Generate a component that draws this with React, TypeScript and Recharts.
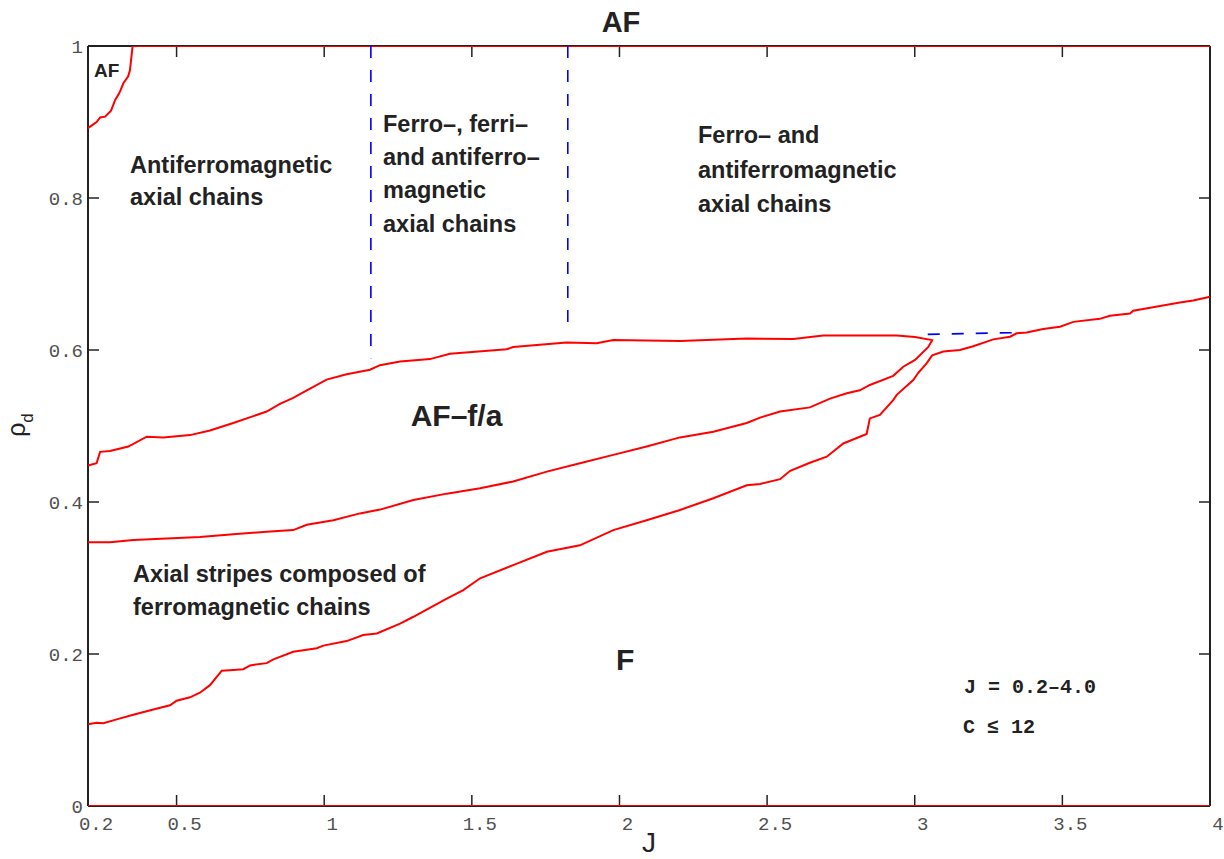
import React from "react";
import { LineChart, Line, XAxis, YAxis } from "recharts";

// phase boundaries as [J, rho_d]
const afCorner: [number, number][] = [
  [0.2, 0.892], [0.229, 0.9], [0.241, 0.906], [0.258, 0.907], [0.278, 0.915],
  [0.292, 0.929], [0.306, 0.938], [0.32, 0.951], [0.336, 0.96], [0.342, 0.968],
  [0.346, 0.982], [0.351, 1.0], [4.0, 1.0],
];

// AF-f/a pocket: upper edge left to right, then back along the lower edge
const afFaUpper: [number, number][] = [
  [0.2, 0.448], [0.229, 0.451], [0.241, 0.466], [0.2745, 0.467], [0.3365, 0.473],
  [0.399, 0.486], [0.455, 0.485], [0.5455, 0.488], [0.613, 0.494], [0.692, 0.504],
  [0.76, 0.513], [0.805, 0.519], [0.85, 0.529], [0.895, 0.537], [0.941, 0.547],
  [1.008, 0.561], [1.076, 0.568], [1.155, 0.574], [1.189, 0.58], [1.257, 0.585],
  [1.358, 0.588], [1.426, 0.595], [1.618, 0.601], [1.64, 0.604], [1.821, 0.61],
  [1.923, 0.609], [1.979, 0.613], [2.205, 0.612], [2.431, 0.615], [2.589, 0.6145],
  [2.69, 0.619], [2.939, 0.619], [3.001, 0.617], [3.059, 0.613],
];
const afFaLower: [number, number][] = [
  [3.046, 0.604], [3.001, 0.587], [2.961, 0.578], [2.927, 0.566], [2.848, 0.554],
  [2.814, 0.547], [2.77, 0.543], [2.713, 0.536], [2.645, 0.5245], [2.544, 0.519],
  [2.476, 0.511], [2.431, 0.504], [2.318, 0.4925], [2.205, 0.485], [2.092, 0.473],
  [1.979, 0.462], [1.866, 0.451], [1.754, 0.44], [1.64, 0.427], [1.528, 0.418],
  [1.415, 0.411], [1.302, 0.4026], [1.189, 0.39], [1.121, 0.385], [1.031, 0.376],
  [0.941, 0.37], [0.895, 0.363], [0.805, 0.361], [0.692, 0.3575], [0.579, 0.354],
  [0.4665, 0.352], [0.3535, 0.35], [0.2745, 0.347], [0.2, 0.347],
];

const fBoundary: [number, number][] = [
  [0.2, 0.1075], [0.229, 0.1096], [0.252, 0.109], [0.297, 0.114], [0.3535, 0.12],
  [0.421, 0.127], [0.478, 0.1325], [0.5, 0.1386], [0.5455, 0.143], [0.579, 0.149],
  [0.613, 0.159], [0.636, 0.17], [0.653, 0.178], [0.692, 0.179], [0.726, 0.18],
  [0.749, 0.185], [0.805, 0.188], [0.828, 0.193], [0.895, 0.203], [0.975, 0.2075],
  [0.997, 0.211], [1.076, 0.217], [1.132, 0.225], [1.178, 0.227], [1.257, 0.24],
  [1.302, 0.249], [1.415, 0.273], [1.471, 0.284], [1.528, 0.2996], [1.64, 0.317],
  [1.754, 0.3346], [1.866, 0.343], [1.979, 0.363], [2.092, 0.376], [2.205, 0.3895],
  [2.318, 0.405], [2.431, 0.422], [2.476, 0.4237], [2.544, 0.43], [2.578, 0.441],
  [2.645, 0.4517], [2.702, 0.4596], [2.758, 0.477], [2.837, 0.4895], [2.848, 0.51],
  [2.882, 0.5145], [2.927, 0.534], [2.939, 0.541], [2.995, 0.5605], [3.012, 0.57],
  [3.04, 0.5825], [3.059, 0.593], [3.097, 0.598], [3.153, 0.6], [3.198, 0.605],
  [3.266, 0.614], [3.323, 0.6175], [3.345, 0.622], [3.379, 0.623], [3.435, 0.6276],
  [3.492, 0.6307], [3.537, 0.637], [3.627, 0.641], [3.661, 0.645], [3.729, 0.648],
  [3.74, 0.6517], [3.831, 0.658], [3.898, 0.6625], [3.943, 0.665], [3.989, 0.669],
  [4.0, 0.67],
];

const fBottom: [number, number][] = [[0.2, 0], [4.0, 0]];

// blue dashed separators
const dash1: [number, number][] = [[1.158, 1.0], [1.158, 0.589]];
const dash2: [number, number][] = [[1.825, 1.0], [1.825, 0.622]];
const dash3: [number, number][] = [[3.044, 0.6206], [3.33, 0.6228]];

const xTicks = [0.2, 0.5, 1, 1.5, 2, 2.5, 3, 3.5, 4];
const yTicks = [0, 0.2, 0.4, 0.6, 0.8, 1];

const toRows = (pts: [number, number][]) => pts.map(([x, y]) => ({ x, y }));

// let the figure use the whole window (labels sit close to the right and bottom edges)
if (typeof document !== "undefined") document.body.style.margin = "0";

const PAGE_W = 1224;
const PAGE_H = 859;
const W = 1216;
const H = 851;
const MONO = "'Liberation Mono', 'Courier New', monospace";
const SANS = "'Liberation Sans', Arial, Helvetica, sans-serif";
const TICK_LEN = 11;
const TICK_COLOR = "#505050";

const BottomTick = (props: any) => {
  const { x, y, payload } = props;
  return (
    <g>
      <line x1={x} y1={y} x2={x} y2={y - TICK_LEN} stroke="#222" strokeWidth={1.5} />
      <text x={x + 8} y={y + 24} textAnchor="middle" fontFamily={MONO} fontSize={19} fill={TICK_COLOR}>
        {String(payload.value)}
      </text>
    </g>
  );
};

const TopTick = (props: any) => {
  const { x, y } = props;
  return <line x1={x} y1={y} x2={x} y2={y + TICK_LEN} stroke="#222" strokeWidth={1.5} />;
};

const LeftTick = (props: any) => {
  const { x, y, payload } = props;
  return (
    <g>
      <line x1={x} y1={y} x2={x + TICK_LEN} y2={y} stroke="#222" strokeWidth={1.5} />
      <text x={x - 5} y={y + 7} textAnchor="end" fontFamily={MONO} fontSize={19} fill={TICK_COLOR}>
        {String(payload.value)}
      </text>
    </g>
  );
};

const RightTick = (props: any) => {
  const { x, y } = props;
  return <line x1={x} y1={y} x2={x - TICK_LEN} y2={y} stroke="#222" strokeWidth={1.5} />;
};

const redLines = [afCorner, afFaUpper.concat(afFaLower), fBoundary, fBottom];
const blueLines = [dash1, dash2, dash3];

const label = { fontFamily: SANS, fontWeight: 700, fill: "#222" } as const;

const axisCommon = {
  type: "number" as const,
  interval: 0 as const,
  tickSize: 0,
  tickMargin: 0,
  tickLine: false,
  axisLine: { stroke: "#222", strokeWidth: 2 },
  allowDataOverflow: true,
};

const layer: React.CSSProperties = { position: "absolute", left: 8, top: 8, overflow: "visible" };

export default function App() {
  return (
    <div style={{ position: "relative", width: PAGE_W, height: PAGE_H, overflow: "hidden", fontFamily: SANS }}>
      {/* frame: box with inward ticks on all four sides */}
      <div style={layer}>
        <LineChart width={W} height={H} margin={{ top: 37, right: 13, bottom: 52, left: 79 }} style={{ overflow: "visible" }}>
          <XAxis {...axisCommon} dataKey="x" domain={[0.2, 4]} ticks={xTicks} height={1} tick={<BottomTick />} />
          <XAxis
            {...axisCommon}
            xAxisId="top"
            orientation="top"
            dataKey="x"
            domain={[0.2, 4]}
            ticks={xTicks}
            height={1}
            tick={<TopTick />}
          />
          <YAxis {...axisCommon} domain={[0, 1]} ticks={yTicks} width={1} tick={<LeftTick />} />
          <YAxis
            {...axisCommon}
            yAxisId="right"
            orientation="right"
            domain={[0, 1]}
            ticks={yTicks}
            width={1}
            tick={<RightTick />}
          />
        </LineChart>
      </div>

      {/* phase boundaries drawn above the frame */}
      <div style={layer}>
        <LineChart width={W} height={H} margin={{ top: 38, right: 14, bottom: 53, left: 80 }} style={{ overflow: "visible" }}>
          <XAxis type="number" dataKey="x" domain={[0.2, 4]} hide allowDataOverflow />
          <YAxis type="number" domain={[0, 1]} hide allowDataOverflow />
          {redLines.map((pts, i) => (
            <Line
              key={`red-${i}`}
              data={toRows(pts)}
              dataKey="y"
              type="linear"
              stroke="#ff0000"
              strokeWidth={2}
              dot={false}
              activeDot={false}
              isAnimationActive={false}
            />
          ))}
          {blueLines.map((pts, i) => (
            <Line
              key={`blue-${i}`}
              data={toRows(pts)}
              dataKey="y"
              type="linear"
              stroke="#0000ff"
              strokeWidth={1.6}
              strokeDasharray="12 12"
              dot={false}
              activeDot={false}
              isAnimationActive={false}
            />
          ))}
        </LineChart>
      </div>

      <svg width={W} height={H} style={{ ...layer, pointerEvents: "none" }}>
        <text x={613} y={24} textAnchor="middle" fontSize={29} {...label}>AF</text>
        <text x={86} y={69} fontSize={19} {...label}>AF</text>

        <text fontSize={23.5} {...label}>
          <tspan x={122} y={165}>Antiferromagnetic</tspan>
          <tspan x={122} y={197}>axial chains</tspan>
        </text>

        <text fontSize={23.5} {...label}>
          <tspan x={375} y={123.5}>Ferro–, ferri–</tspan>
          <tspan x={375} y={156.5}>and antiferro–</tspan>
          <tspan x={375} y={190}>magnetic</tspan>
          <tspan x={375} y={223.5}>axial chains</tspan>
        </text>

        <text fontSize={23.5} {...label}>
          <tspan x={690} y={135.3}>Ferro– and</tspan>
          <tspan x={690} y={169.5}>antiferromagnetic</tspan>
          <tspan x={690} y={203.7}>axial chains</tspan>
        </text>

        <text x={402.7} y={418} fontSize={30} {...label}>AF–f/a</text>

        <text fontSize={23.5} {...label}>
          <tspan x={125} y={573.7}>Axial stripes composed of</tspan>
          <tspan x={125} y={607}>ferromagnetic chains</tspan>
        </text>

        <text x={608} y={662} fontSize={30} {...label}>F</text>

        <text x={956} y={685} fontFamily={MONO} fontWeight={700} fontSize={20} fill="#222">
          J = 0.2–4.0
        </text>
        <text x={955} y={725} fontFamily={MONO} fontWeight={700} fontSize={20} fill="#222">
          C ≤ 12
        </text>

        <text
          x={17}
          y={417}
          textAnchor="middle"
          transform="rotate(-90, 17, 417)"
          fontFamily={SANS}
          fill="#222"
        >
          <tspan fontSize={25}>ρ</tspan>
          <tspan fontSize={17} dy={8}>d</tspan>
        </text>

        <text x={641} y={844} textAnchor="middle" fontFamily={SANS} fontSize={28} fill="#222">
          J
        </text>
      </svg>
    </div>
  );
}
